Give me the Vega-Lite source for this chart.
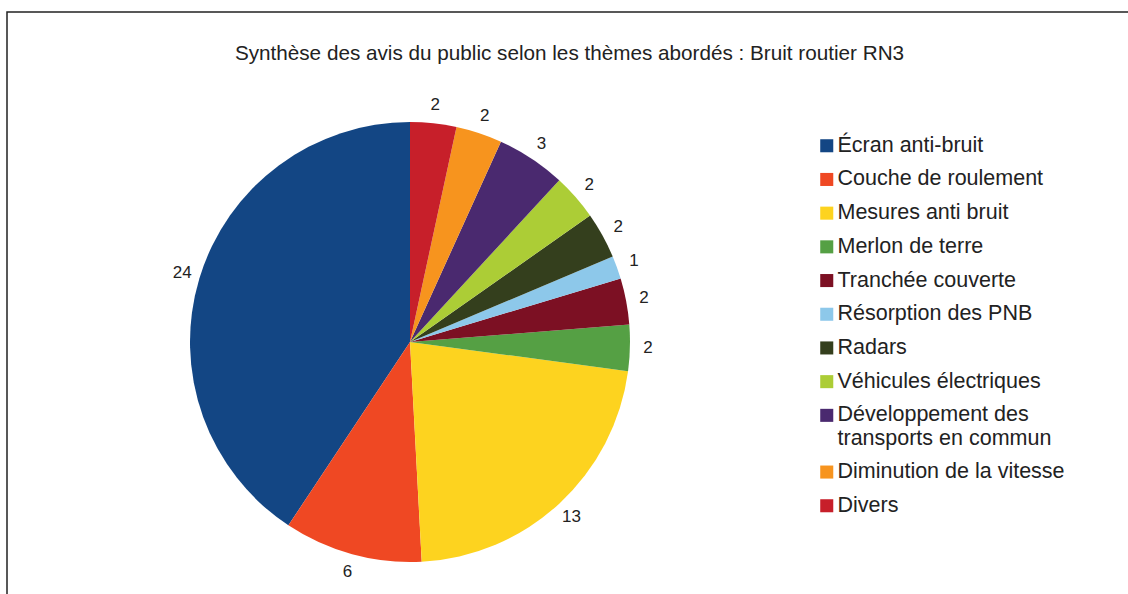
{
  "$schema": "https://vega.github.io/schema/vega-lite/v6.json",
  "autosize": "none",
  "padding": {"left": 7, "top": 12, "right": 0, "bottom": 0},
  "width": 1125,
  "height": 590,
  "background": "white",
  "view": {"stroke": "#222", "strokeWidth": 1.5},
  "config": {
    "font": "Liberation Sans"
  },
  "title": {
    "text": "Synthèse des avis du public selon les thèmes abordés : Bruit routier RN3",
    "fontSize": 20.7,
    "fontWeight": "normal",
    "color": "#222",
    "anchor": "middle",
    "baseline": "alphabetic",
    "offset": -69
  },
  "data": {
    "values": [
      {"k": 1, "theme": "Écran anti-bruit", "n": 24},
      {"k": 2, "theme": "Couche de roulement", "n": 6},
      {"k": 3, "theme": "Mesures anti bruit", "n": 13},
      {"k": 4, "theme": "Merlon de terre", "n": 2},
      {"k": 5, "theme": "Tranchée couverte", "n": 2},
      {"k": 6, "theme": "Résorption des PNB", "n": 1},
      {"k": 7, "theme": "Radars", "n": 2},
      {"k": 8, "theme": "Véhicules électriques", "n": 2},
      {"k": 9, "theme": "Développement des transports en commun", "n": 3},
      {"k": 10, "theme": "Diminution de la vitesse", "n": 2},
      {"k": 11, "theme": "Divers", "n": 2}
    ]
  },
  "encoding": {
    "theta": {"field": "n", "type": "quantitative", "stack": true},
    "order": {"field": "k", "type": "quantitative", "sort": "descending"}
  },
  "layer": [
    {
      "mark": {"type": "arc", "outerRadius": 220, "x": 403, "y": 330},
      "encoding": {
        "color": {
          "field": "theme",
          "type": "nominal",
          "scale": {
            "domain": ["Écran anti-bruit", "Couche de roulement", "Mesures anti bruit", "Merlon de terre", "Tranchée couverte", "Résorption des PNB", "Radars", "Véhicules électriques", "Développement des transports en commun", "Diminution de la vitesse", "Divers"],
            "range": ["#134684", "#ef4823", "#fdd31f", "#55a044", "#7c1023", "#8dc8ea", "#343f1d", "#accd36", "#4a296f", "#f7941e", "#c71f2a"]
          },
          "legend": {
            "title": null,
            "orient": "none",
            "legendX": 809,
            "legendY": 123,
            "symbolType": "square",
            "symbolSize": 170,
            "symbolStrokeWidth": 0,
            "labelFontSize": 21.5,
            "labelColor": "#222",
            "labelLimit": 400,
            "labelOffset": 0,
            "rowPadding": 10.7,
            "labelExpr": "datum.label == 'Développement des transports en commun' ? ['Développement des', 'transports en commun'] : datum.label"
          }
        }
      }
    },
    {
      "mark": {"type": "text", "radius": 238, "x": 403, "y": 330, "fontSize": 17, "color": "#222"},
      "encoding": {
        "text": {"field": "n", "type": "quantitative"}
      }
    }
  ]
}
